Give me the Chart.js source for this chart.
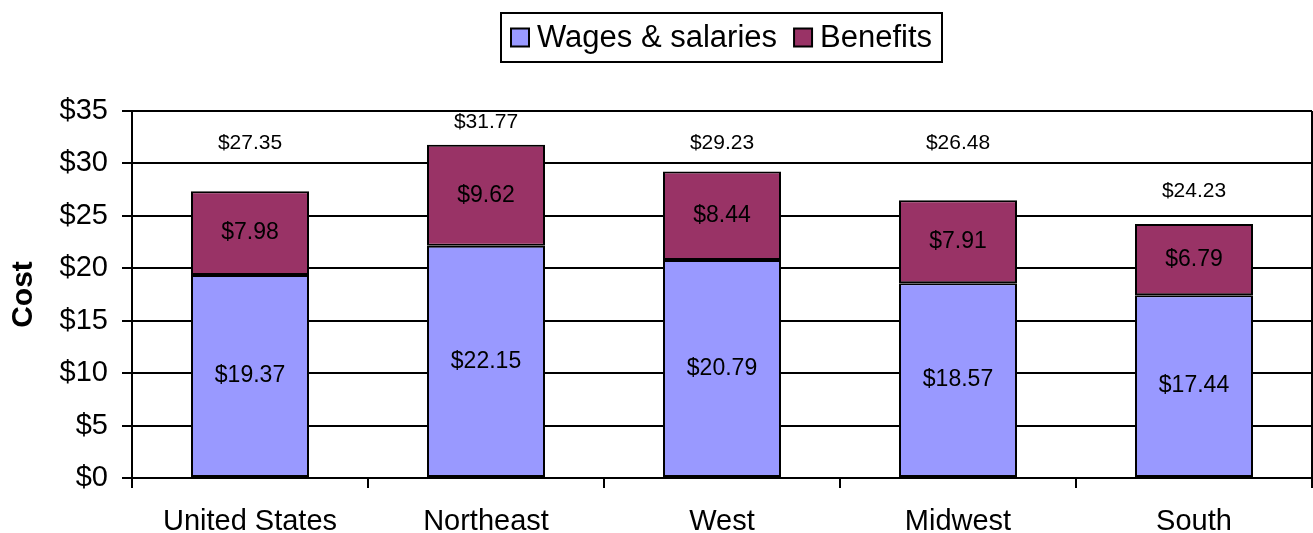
<!DOCTYPE html>
<html>
<head>
<meta charset="utf-8">
<script src="https://cdn.jsdelivr.net/npm/chart.js@4.4.1/dist/chart.umd.min.js"></script>
<style>
  html, body { margin: 0; padding: 0; background: #fff; }
  #wrap { width: 1313px; height: 533px; }
</style>
</head>
<body>
<div id="wrap"><canvas id="chart" width="1313" height="533"></canvas></div>
<script>
const regions = ['United States', 'Northeast', 'West', 'Midwest', 'South'];
const wages = [19.37, 22.15, 20.79, 18.57, 17.44];
const benefits = [7.98, 9.62, 8.44, 7.91, 6.79];
const totals = [27.35, 31.77, 29.23, 26.48, 24.23];
const yTicks = [0, 5, 10, 15, 20, 25, 30, 35];

// where the totals sit, in axis units (the original chart floats them oddly)
const totalLabelLevels = [31.9, 33.9, 31.9, 31.9, 27.35];

const FONT = '"Liberation Sans", Arial, sans-serif';
const money = (v) => '$' + v.toFixed(2);

const barLabels = {
  id: 'barLabels',
  afterDatasetsDraw(chart) {
    const ctx = chart.ctx;
    ctx.save();
    ctx.fillStyle = '#000';
    ctx.textAlign = 'center';
    ctx.textBaseline = 'middle';
    ctx.font = '23px ' + FONT;
    chart.data.datasets.forEach((ds, i) => {
      chart.getDatasetMeta(i).data.forEach((bar, j) => {
        ctx.fillText(money(ds.data[j]), bar.x, (bar.y + bar.base) / 2);
      });
    });
    ctx.font = '21px ' + FONT;
    const y = chart.scales.y;
    chart.getDatasetMeta(0).data.forEach((bar, j) => {
      ctx.fillText(money(totals[j]), bar.x, y.getPixelForValue(totalLabelLevels[j]));
    });
    ctx.restore();
  },
};

const frame = {
  id: 'frame',
  afterDraw(chart) {
    const { ctx, chartArea: a } = chart;
    ctx.save();
    ctx.strokeStyle = '#000';
    ctx.lineWidth = 2;
    ctx.beginPath();
    ctx.moveTo(a.right, a.top);
    ctx.lineTo(a.right, a.bottom);
    ctx.stroke();

    // legend box
    ctx.font = '31px ' + FONT;
    const sw = 18, gapIn = 8, gapOut = 17, padX = 10;
    const items = chart.data.datasets.map((d) => ({
      label: d.label,
      color: d.backgroundColor,
      w: ctx.measureText(d.label).width,
    }));
    let total = padX * 2;
    items.forEach((it, i) => {
      total += sw + gapIn + it.w + (i < items.length - 1 ? gapOut : 0);
    });
    const cx = 722;
    const top = 13, h = 49;
    let x = Math.round(cx - total / 2);
    ctx.strokeRect(x, top, Math.round(total), h);
    x += padX;
    const midY = top + h / 2;
    ctx.textBaseline = 'middle';
    ctx.textAlign = 'left';
    items.forEach((it) => {
      ctx.fillStyle = it.color;
      ctx.fillRect(x, midY - sw / 2, sw, sw);
      ctx.strokeRect(x, midY - sw / 2, sw, sw);
      x += sw + gapIn;
      ctx.fillStyle = '#000';
      ctx.fillText(it.label, x, midY + 1);
      x += it.w + gapOut;
    });
    ctx.restore();
  },
};

new Chart(document.getElementById('chart').getContext('2d'), {
  type: 'bar',
  data: {
    labels: regions,
    datasets: [
      {
        label: 'Wages & salaries',
        data: wages,
        backgroundColor: '#9999FF',
        borderColor: '#000',
        borderWidth: 2,
        borderSkipped: false,
      },
      {
        label: 'Benefits',
        data: benefits,
        backgroundColor: '#993366',
        borderColor: '#000',
        borderWidth: 2,
        borderSkipped: false,
      },
    ],
  },
  options: {
    responsive: false,
    maintainAspectRatio: false,
    animation: false,
    layout: { padding: { top: 111, right: 1, left: 0, bottom: 0 } },
    plugins: {
      legend: { display: false },
      tooltip: { enabled: false },
    },
    datasets: {
      bar: { categoryPercentage: 1, barPercentage: 0.5 },
    },
    scales: {
      x: {
        stacked: true,
        offset: true,
        grid: {
          offset: true,
          drawOnChartArea: false,
          drawTicks: true,
          tickLength: 10,
          color: '#000',
          lineWidth: 2,
        },
        border: { display: true, color: '#000', width: 2 },
        ticks: {
          color: '#000',
          font: { family: FONT, size: 29 },
          padding: 17,
          maxRotation: 0,
        },
        afterFit: (scale) => { scale.height = 55; },
      },
      y: {
        stacked: true,
        min: 0,
        max: 35,
        afterBuildTicks: (scale) => {
          scale.ticks = yTicks.map((v) => ({ value: v }));
        },
        grid: {
          color: '#000',
          lineWidth: 2,
          tickLength: 10,
        },
        border: { display: true, color: '#000', width: 2 },
        ticks: {
          color: '#000',
          font: { family: FONT, size: 29 },
          padding: 14,
          callback: (v) => '$' + v,
        },
        title: {
          display: true,
          text: 'Cost',
          color: '#000',
          font: { family: FONT, size: 30, weight: 'bold' },
          padding: { top: 6, bottom: 0 },
        },
        afterFit: (scale) => { scale.width = 132; },
      },
    },
  },
  plugins: [barLabels, frame],
});
</script>
</body>
</html>
